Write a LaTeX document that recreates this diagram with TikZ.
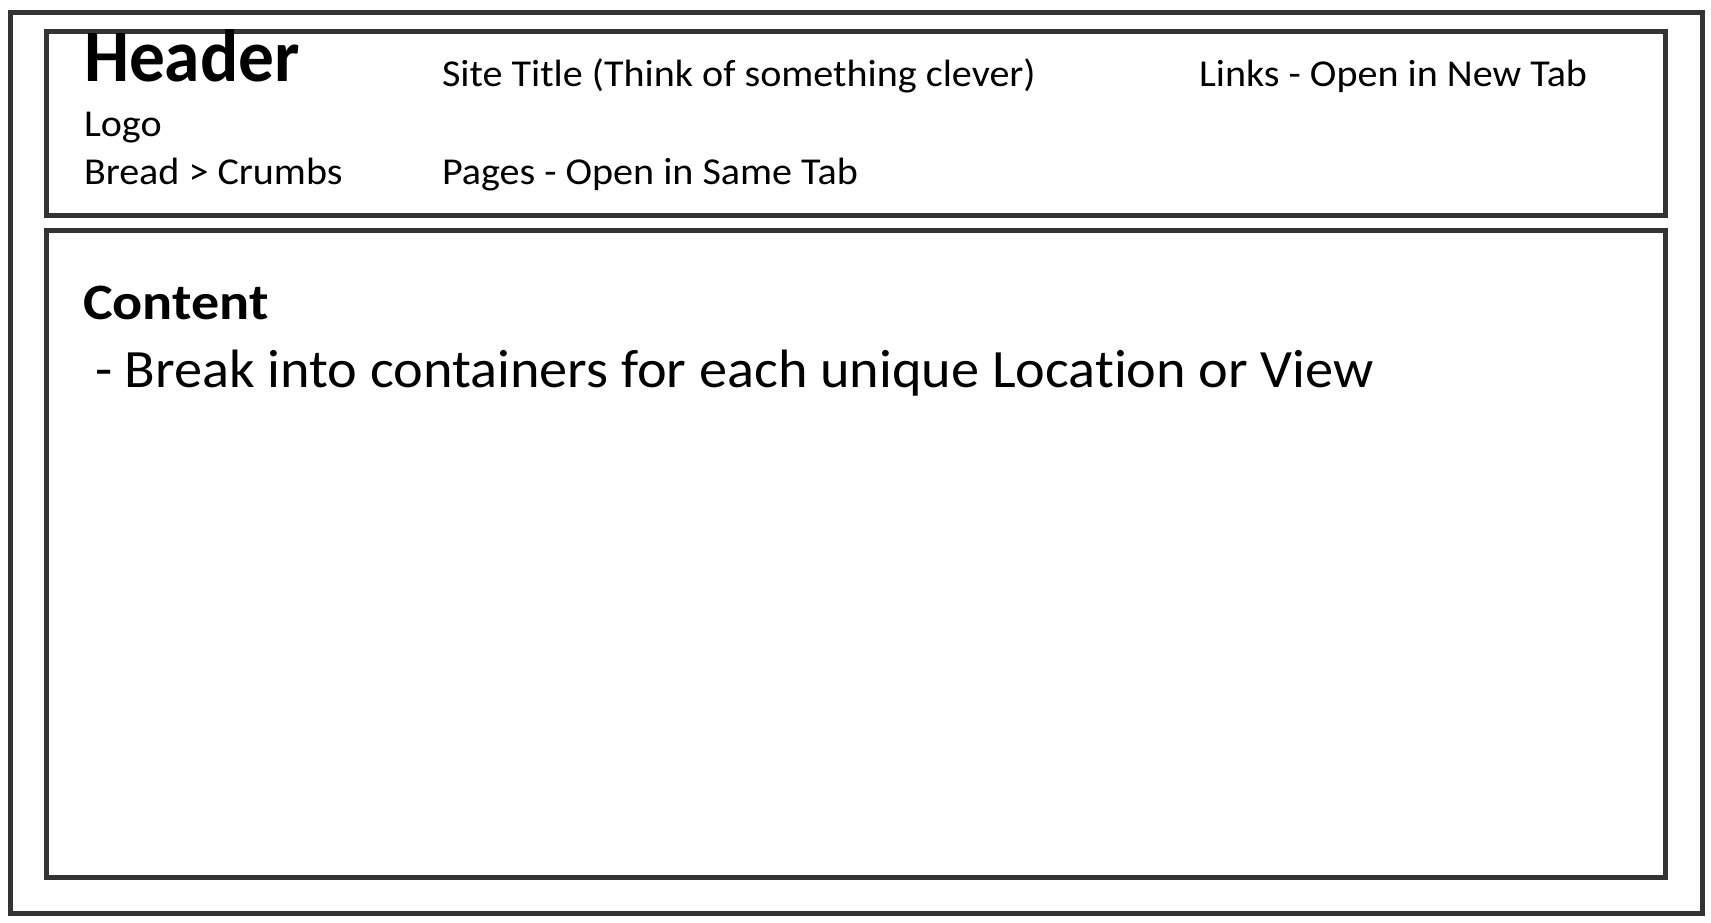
\documentclass[tikz,border=0pt]{standalone}
\usepackage{fontspec}
\setmainfont{Carlito}[Ligatures=NoCommon]
\definecolor{frame}{HTML}{333333}
\newcommand{\stretchfont}[2]{\fontsize{#1}{#1}\selectfont\addfontfeature{FakeStretch=#2}}
\tikzset{
  box/.style={draw=frame, line width=5pt, line join=miter},
  txt/.style={anchor=base west, inner sep=0pt, outer sep=0pt, text=black},
  small/.style={txt, font=\stretchfont{38}{1.055}},
}
\begin{document}
\begin{tikzpicture}[x=1pt,y=-1pt]
\useasboundingbox (0,0) rectangle (1711,923);
\fill[white] (0,0) rectangle (1711,923);
\draw[box] (10,13) rectangle (1702,913);
\draw[box] (46,32) rectangle (1665,215);
\draw[box] (46,230) rectangle (1665,877);
\node[txt, font=\bfseries\stretchfont{74}{0.965}] (header) at (84,82) {Header};
\node[small] (logo) at (84,137) {Logo};
\node[small] (crumbs) at (84,184) {Bread > Crumbs};
\node[small] (title) at (442,87) {Site Title (Think of something clever)};
\node[small] (pages) at (442,185) {Pages - Open in Same Tab};
\node[small] (links) at (1199,87) {Links - Open in New Tab};
\node[txt, font=\bfseries\stretchfont{51}{1.1}] (content) at (83,319) {Content};
\node[txt, font=\stretchfont{54}{1.042}] (break) at (95,387) {- Break into containers for each unique Location or View};
\end{tikzpicture}
\end{document}
